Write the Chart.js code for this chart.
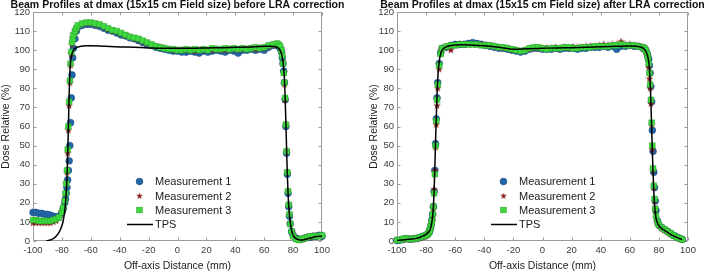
<!DOCTYPE html>
<html>
<head>
<meta charset="utf-8">
<script src="https://cdn.jsdelivr.net/npm/chart.js@4.4.1/dist/chart.umd.min.js"></script>
<style>
html, body { margin: 0; padding: 0; background: #fff; }
.box { position: absolute; top: 0; height: 272px; }
#box_before { left: 0; width: 354px; }
#box_after { left: 354px; width: 355px; }
</style>
</head>
<body>
<div class="box" id="box_before"><canvas id="before_chart" width="354" height="272"></canvas></div>
<div class="box" id="box_after"><canvas id="after_chart" width="355" height="272"></canvas></div>
<script>
// ---- before LRA correction ----
const xBefore = [
  -100, -98, -96, -94, -92, -90, -88, -86, -84, -82, -80, -79, -78,
  -77.5, -77, -76.5, -76, -75.5, -75, -74.5, -74, -73.5, -73, -72.5, -72, -71, -70,
  -69, -66, -63, -60, -57, -54, -51, -48, -45, -42, -39, -36, -33, -30, -27, -24, -21, -18, -15, -12,
  -9, -6, -3, 0, 3, 6, 9, 12, 15, 18, 21, 24, 27, 30, 33, 36, 39, 42, 45, 48, 51, 54, 57, 60, 63, 66, 69,
  70, 71, 72, 72.5, 73, 73.5, 74, 74.5, 75, 75.5, 76, 76.5, 77, 77.5, 78,
  79, 80, 82, 84, 86, 88, 90, 92, 94, 96, 98, 100
];
const m1Before = [
  15, 15, 14.5, 14.5, 14, 14, 13.5, 13, 12.5, 13, 15, 17, 20,
  22, 25, 28, 32, 37, 42, 50, 62, 75, 87, 96, 101, 106, 110,
  112, 113, 113.5, 113.5, 113, 112.5, 111.5, 110.5, 110, 109, 108, 107.5, 106.5, 106, 105, 104, 103, 102.5, 101.5, 101,
  100.5, 100, 99.5, 99.5, 99, 99, 99.5, 99, 98.5, 99.5, 99, 99.5, 100, 99.5, 99, 100, 99.5, 98.5, 100, 100, 100.5, 100, 100.5, 100, 101.5, 102.5, 102.5,
  102, 101, 99, 96, 93, 89, 83, 74, 60, 46, 35, 25, 18, 13, 9,
  5, 3, 1.5, 1, 1, 1.5, 2, 2, 2.5, 2.5, 3, 2.5
];
const m2Before = [
  9.5, 9.5, 9.5, 9.5, 9.5, 9.5, 9.5, 10, 10.5, 12, 14.5, 17, 21,
  25, 30, 36, 46, 58, 71, 83, 92, 98, 103, 106, 108, 110, 111,
  112.5, 113.5, 114, 114, 113.5, 113, 112, 111, 110, 109.5, 108.5, 107.5, 107, 106, 105.5, 104.5, 103.5, 102.5, 102, 101.5,
  101, 100.5, 100, 100, 100, 100, 100, 99.5, 100, 100, 100, 100, 100.5, 100, 100, 100.5, 100.5, 100, 100.5, 100.5, 101, 100.5, 101, 101, 102, 102.5, 103,
  102.5, 101.5, 99.5, 97, 93.5, 88.5, 82, 74, 61, 47, 36, 26, 19, 14, 9.5,
  5, 2.5, 1, 0.5, 1, 1.5, 2, 2, 2.5, 2.5, 2.5, 3
];
const m3Before = [
  11, 11, 10.5, 10.5, 10.5, 10.5, 10.5, 11, 11.5, 12.5, 15, 17.5, 21,
  25, 30, 37, 48, 60, 73, 84, 93, 99, 104, 106, 108, 110, 111.5,
  113, 114, 114.5, 114.5, 114, 113.5, 112.5, 111.5, 110.5, 110, 109, 108, 107, 106.5, 106, 105, 104, 103, 102, 101.5,
  101, 100.5, 100.5, 100, 100, 100.5, 100, 100.5, 100, 100.5, 100, 101, 100.5, 100.5, 101, 100.5, 101, 100.5, 101, 100.5, 101, 101.5, 101, 101.5, 102.5, 103, 103.5,
  103, 102, 100, 97, 93, 88, 83, 75, 61, 47, 36, 26, 19, 14, 9,
  5, 2.5, 1, 0.5, 1, 1.5, 2, 2.5, 2.5, 2.5, 2.5, 3
];
const xTpsBefore = [
  -91, -88, -86, -84, -82, -80, -79, -78, -77, -76.5, -76, -75.5, -75, -74.5, -74, -73, -72, -70, -67, -63,
  -60, -50, -40, -30, -20, -10, 0, 10, 20, 30, 40, 50, 60, 65, 68, 70, 71, 72, 73, 74,
  74.5, 75, 75.5, 76, 76.5, 77, 78, 79, 80, 82, 84, 86, 88, 90, 92, 94, 96, 98, 100
];
const tpsBefore = [
  0, 0.5, 1.2, 2.5, 4.5, 8, 11, 16, 25, 33, 45, 60, 76, 88, 94, 98, 100, 101.3, 102, 102.3,
  102.3, 102, 101.7, 101.5, 101.2, 101, 101, 101, 101.2, 101.3, 101.5, 101.7, 102, 102, 101.8, 101, 100, 98, 94, 85,
  75, 62, 48, 35, 25, 18, 10, 5.5, 3, 1.2, 0.6, 0.5, 0.8, 1.2, 1.6, 2, 2.3, 2.5, 2.5
];

// ---- after LRA correction ----
const xAfter = [
  -100, -98, -96, -94, -92, -90, -88, -86, -84, -82, -80, -79, -78,
  -77.5, -77, -76.5, -76, -75.5, -75, -74.5, -74, -73.5, -73, -72.5, -72, -71, -70,
  -69, -66, -63, -60, -57, -54, -51, -48, -45, -42, -39, -36, -33, -30, -27, -24, -21, -18, -15, -12,
  -9, -6, -3, 0, 3, 6, 9, 12, 15, 18, 21, 24, 27, 30, 33, 36, 39, 42, 45, 48, 51, 54, 57, 60, 63, 66, 69,
  70, 71, 72, 72.5, 73, 73.5, 74, 74.5, 75, 75.5, 76, 76.5, 77, 77.5, 78,
  79, 80, 82, 84, 86, 88, 90, 92, 94, 96
];
const m1After = [
  0.3, 0.5, 0.8, 1.2, 1, 1, 1.2, 1.5, 2, 2.5, 3, 3.5, 4.5,
  5.5, 6.5, 8.5, 11, 14, 18, 26, 37, 51, 64, 75, 83, 93, 98.5,
  101, 101.5, 102.5, 103, 103, 103, 103.5, 104, 103.5, 103, 102.5, 102, 101.5, 101, 101, 100.5, 100, 99.5, 99, 99.5,
  100.5, 101, 101, 100.5, 100.5, 100.5, 101, 100.5, 101, 101, 101, 100.5, 101, 101, 101.5, 101.5, 101.5, 102, 101.5, 102, 100.5, 102, 102, 102.5, 102, 102, 101,
  101, 100, 98, 96.5, 95, 92, 88, 81, 73, 58, 47, 36, 28, 21, 16,
  10.5, 8.5, 7, 6, 5, 4, 3, 2.2, 1.5, 0.8
];
const m2After = [
  0.5, 0.5, 0.8, 1, 1, 1, 1, 1.2, 1.5, 2, 3, 3.5, 4.5,
  5, 6.5, 8, 10, 13, 17, 27, 37, 49, 61, 71, 80, 90, 99.5,
  100.5, 101.5, 100, 102.5, 103, 103, 103, 103, 103, 103, 102.5, 102.5, 102, 101.5, 101, 101, 100, 100, 99.5, 100,
  100.5, 101, 101, 101, 101, 101, 101, 101, 101.5, 101, 101.5, 101.5, 101.5, 102, 102, 102, 102.5, 103, 102.5, 103, 103, 104.5, 103, 103, 102.5, 102, 101.5,
  100.5, 99.5, 97, 95, 91, 85, 80, 72, 61, 48, 37, 28, 21, 16, 12,
  9.5, 8, 6.5, 5.5, 4.5, 3.5, 2.8, 2, 1.3, 0.6
];
const m3After = [
  0.5, 0.5, 1, 1.5, 1, 1, 1.2, 1.5, 2, 2.5, 3, 3.5, 4.5,
  5.5, 7, 8.5, 10.5, 14, 18, 25, 35, 50, 63, 74, 82, 92, 98,
  101, 102, 102.5, 102.5, 103, 103, 103, 103, 103, 102.5, 102.5, 102.5, 102, 101.5, 101.5, 101, 100.5, 100, 99.5, 100,
  101, 101.5, 101.5, 101, 100.5, 101, 101, 101, 101.5, 101.5, 101, 101, 101.5, 101.5, 101.5, 102, 102, 102, 102, 102.5, 102.5, 103, 102.5, 102.5, 102.5, 102, 101.5,
  101, 100, 98, 96, 93, 88, 82, 74, 62, 50, 38, 29, 22, 17, 13,
  10, 8.5, 7, 6, 5, 4, 3, 2, 1.5, 0.7
];
const xTpsAfter = [
  -100, -95, -90, -86, -84, -82, -80, -78, -77, -76, -75.5, -75, -74.5, -74, -73.5, -73, -72.5, -72, -71, -70,
  -69, -67, -63, -55, -50, -40, -30, -25, -20, -10, 0, 10, 20, 30, 40, 50, 60, 65, 68, 70,
  71, 72, 73, 73.5, 74, 74.5, 75, 75.5, 76, 76.5, 77, 77.5, 78, 79, 80, 82, 84, 86, 88, 90, 92, 94, 96
];
const tpsAfter = [
  0.3, 0.6, 1, 1.5, 2, 2.7, 3.5, 5, 6.5, 10, 13, 18, 26, 38, 52, 65, 76, 85, 94, 98,
  100, 101.5, 102.5, 102.8, 102.7, 102.3, 101.5, 101, 100.5, 100.8, 101, 101.2, 101.3, 101.5, 101.8, 102, 102.2, 102, 101.5, 100.5,
  99.5, 97.5, 94, 90, 83, 73, 60, 47, 35, 26, 19, 15, 12, 9.5, 8, 6.5, 5.5, 4.5, 3.5, 2.7, 2, 1.3, 0.7
];

const seriesNames = ['Measurement 1', 'Measurement 2', 'Measurement 3', 'TPS'];

const blue = '#2366a8';
const blue_edge = '#1a4f84';
const dark_red = '#8a1c1c';
const green = '#3fd83f';
const green_edge = '#2aa52a';
const axis_gray = '#9c9c9c';
const label_gray = '#3a3a3a';
const font_family = "'Liberation Sans', Arial, sans-serif";

function starImage(size, color) {
  const c = document.createElement('canvas');
  c.width = size; c.height = size;
  const g = c.getContext('2d');
  const R = size / 2, r = R * 0.42;
  g.beginPath();
  for (let i = 0; i < 10; i++) {
    const a = -Math.PI / 2 + i * Math.PI / 5;
    const rr = i % 2 === 0 ? R : r;
    g.lineTo(R + rr * Math.cos(a), R + rr * Math.sin(a));
  }
  g.closePath();
  g.fillStyle = color;
  g.fill();
  return c;
}
const star = starImage(8, dark_red);

function pts(xs, ys) { return xs.map((x, i) => ({ x: x, y: ys[i] })); }

// box round the plot with inward ticks
const framePlugin = {
  id: 'frame',
  beforeDatasetsDraw(chart) {
    const { ctx, chartArea: a, scales } = chart;
    const L = Math.round(a.left) + 0.5, R = Math.round(a.right) - 0.5;
    const T = Math.round(a.top) + 0.5, B = Math.round(a.bottom) - 0.5;
    ctx.save();
    ctx.strokeStyle = axis_gray;
    ctx.lineWidth = 1;
    ctx.strokeRect(L, T, R - L, B - T);
    ctx.beginPath();
    scales.x.ticks.forEach(t => {
      const px = Math.round(scales.x.getPixelForValue(t.value)) + 0.5;
      ctx.moveTo(px, B); ctx.lineTo(px, B - 3);
      ctx.moveTo(px, T); ctx.lineTo(px, T + 3);
    });
    scales.y.ticks.forEach(t => {
      const py = Math.round(scales.y.getPixelForValue(t.value)) + 0.5;
      ctx.moveTo(L, py); ctx.lineTo(L + 3, py);
      ctx.moveTo(R, py); ctx.lineTo(R - 3, py);
    });
    ctx.stroke();
    ctx.restore();
  }
};

// title over the plot and legend inside it
const textPlugin = {
  id: 'texts',
  afterDraw(chart, args, opts) {
    const { ctx, chartArea: a } = chart;
    ctx.save();
    ctx.font = 'bold 10.5px ' + font_family;
    ctx.fillStyle = '#111';
    ctx.textAlign = 'center';
    ctx.textBaseline = 'middle';
    ctx.fillText(opts.title, (a.left + a.right) / 2, 5.5);

    const rows = [181.5, 196, 210, 224.5];
    const mx = a.left + 106.5, tx = a.left + 122;
    ctx.font = '11px ' + font_family;
    ctx.textAlign = 'left';
    chart.data.datasets.forEach((ds, i) => {
      const y = rows[i];
      if (ds.showLine) {
        ctx.strokeStyle = '#000';
        ctx.lineWidth = 1.5;
        ctx.beginPath();
        ctx.moveTo(a.left + 94, y); ctx.lineTo(a.left + 120, y);
        ctx.stroke();
      } else if (ds.pointStyle === 'circle') {
        ctx.fillStyle = blue; ctx.strokeStyle = blue_edge; ctx.lineWidth = 0.8;
        ctx.beginPath(); ctx.arc(mx, y, 3.3, 0, Math.PI * 2); ctx.fill(); ctx.stroke();
      } else if (ds.pointStyle === 'rect') {
        ctx.fillStyle = green; ctx.strokeStyle = green_edge; ctx.lineWidth = 0.6;
        ctx.fillRect(mx - 2.8, y - 2.8, 5.6, 5.6); ctx.strokeRect(mx - 2.8, y - 2.8, 5.6, 5.6);
      } else {
        ctx.drawImage(star, mx - 3.5, y - 3.5, 7, 7);
      }
      ctx.fillStyle = '#1a1a1a';
      ctx.fillText(ds.label, tx, y + 0.5);
    });
    ctx.restore();
  }
};

function makeChart(id, title, xs, m1, m2, m3, tx, tps, pad, yWidth) {
  return new Chart(document.getElementById(id), {
    type: 'scatter',
    data: {
      datasets: [
        { label: seriesNames[0], data: pts(xs, m1), pointStyle: 'circle', pointRadius: 3.4,
          backgroundColor: blue, borderColor: blue_edge, borderWidth: 0.6, order: 4, clip: false },
        { label: seriesNames[1], data: pts(xs, m2), pointStyle: star, pointRadius: 4,
          backgroundColor: dark_red, borderColor: dark_red, order: 3, clip: false },
        { label: seriesNames[2], data: pts(xs, m3), pointStyle: 'rect', pointRadius: 4,
          backgroundColor: green, borderColor: green_edge, borderWidth: 0.5, order: 2, clip: false },
        { label: seriesNames[3], data: pts(tx, tps), showLine: true, pointRadius: 0,
          borderColor: '#000', borderWidth: 1.5, cubicInterpolationMode: 'monotone', order: 1 }
      ]
    },
    options: {
      responsive: false,
      animation: false,
      events: [],
      layout: { padding: pad },
      plugins: {
        legend: { display: false },
        tooltip: { enabled: false },
        texts: { title: title }
      },
      scales: {
        x: {
          type: 'linear', min: -100, max: 100,
          ticks: { stepSize: 20, color: label_gray, font: { family: font_family, size: 9.5 }, padding: 4, maxRotation: 0 },
          grid: { display: false, drawTicks: false },
          border: { display: false },
          title: { display: true, text: 'Off-axis Distance (mm)', color: '#222',
                   font: { family: font_family, size: 10.5 }, padding: { top: 0, bottom: 0 } },
          afterFit(s) { s.height = 31; }
        },
        y: {
          min: 0, max: 120,
          ticks: { stepSize: 10, color: label_gray, font: { family: font_family, size: 9.5 }, padding: 3 },
          grid: { display: false, drawTicks: false },
          border: { display: false },
          title: { display: true, text: 'Dose Relative (%)', color: '#222',
                   font: { family: font_family, size: 10.5 }, padding: { top: 0, bottom: 0 } },
          afterFit(s) { s.width = yWidth; }
        }
      }
    },
    plugins: [framePlugin, textPlugin]
  });
}

const before_chart = makeChart('before_chart',
  'Beam Profiles at dmax (15x15 cm Field size) before LRA correction',
  xBefore, m1Before, m2Before, m3Before, xTpsBefore, tpsBefore,
  { left: 0, top: 12, right: 32, bottom: 0 }, 33);

const after_chart = makeChart('after_chart',
  'Beam Profiles at dmax (15x15 cm Field size) after LRA correction',
  xAfter, m1After, m2After, m3After, xTpsAfter, tpsAfter,
  { left: 14, top: 12, right: 21, bottom: 0 }, 29);
</script>
</body>
</html>
